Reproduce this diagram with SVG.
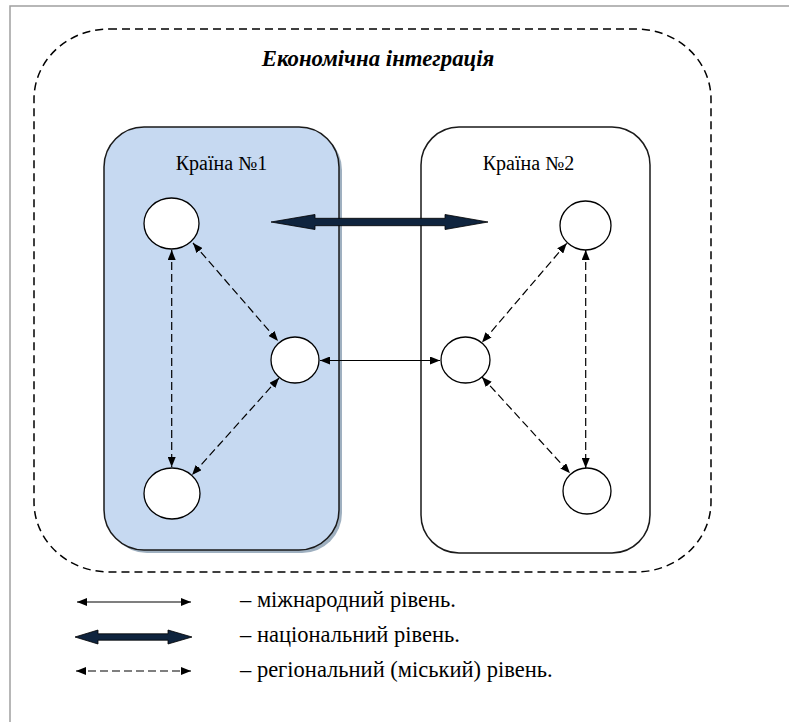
<svg xmlns="http://www.w3.org/2000/svg" width="789" height="722" viewBox="0 0 789 722">
  <defs>
    <style>
      .frame { fill: none; stroke: #a0a0a0; stroke-width: 1.5; }
      .zone { fill: none; stroke: #000; stroke-width: 1.5; stroke-dasharray: 8 5; }
      .country { stroke: #1a1a1a; stroke-width: 1.5; }
      .node { fill: #fff; stroke: #000; stroke-width: 1.3; }
      .label { fill: #000; font-family: "Liberation Serif", "DejaVu Serif", serif; }
      .title { font-size: 22.8px; font-weight: bold; font-style: italic; text-anchor: middle; }
      .cname { font-size: 20px; text-anchor: middle; }
      .legend { font-size: 22.5px; }
      .link { fill: none; stroke: #000; stroke-width: 1.2; }
      .dash { stroke-dasharray: 8 4; }
      .thick { fill: #0f243e; stroke: #000; stroke-width: 0.8; }
    </style>
    <marker id="head" viewBox="0 0 10 8" refX="10" refY="4" markerWidth="10" markerHeight="8" markerUnits="userSpaceOnUse" orient="auto-start-reverse">
      <path d="M0,0 L10,4 L0,8 Z" fill="#000"/>
    </marker>
  </defs>

  <!-- page frame -->
  <path class="frame" d="M10,722 V6 H789"/>

  <!-- integration zone -->
  <g id="integration">
    <rect class="zone" x="34" y="29" width="677" height="543" rx="75" ry="70"/>
    <text class="label title" x="378" y="66">Економічна інтеграція</text>
  </g>

  <!-- country 1 -->
  <g id="country1">
    <rect x="107" y="130" width="235" height="423" rx="40" ry="40" fill="#9fb0c0"/>
    <rect class="country" x="104" y="127" width="235" height="423" rx="40" ry="40" fill="#c6d9f1"/>
    <text class="label cname" x="221.5" y="170">Країна №1</text>
  </g>

  <!-- country 2 -->
  <g id="country2">
    <rect class="country" x="421" y="127" width="229" height="426" rx="38" ry="38" fill="#fff"/>
    <text class="label cname" x="528.5" y="170">Країна №2</text>
  </g>

  <!-- cities -->
  <g id="city-l1"><ellipse class="node" cx="171.5" cy="223.5" rx="27.5" ry="25.5"/></g>
  <g id="city-l2"><ellipse class="node" cx="295" cy="360" rx="24" ry="23"/></g>
  <g id="city-l3"><ellipse class="node" cx="172" cy="493.5" rx="28" ry="25.5"/></g>
  <g id="city-r1"><ellipse class="node" cx="585.5" cy="225.5" rx="25.5" ry="24.5"/></g>
  <g id="city-r2"><ellipse class="node" cx="465.5" cy="360" rx="24.5" ry="23"/></g>
  <g id="city-r3"><ellipse class="node" cx="587" cy="491" rx="24" ry="23"/></g>

  <!-- links -->
  <g id="connectors">
    <!-- national level -->
    <path class="thick" d="M271,222 L315,214.5 L315,218.3 L445,218.3 L445,214.5 L488,222 L445,229.5 L445,225.7 L315,225.7 L315,229.5 Z"/>
    <!-- international level -->
    <line class="link" x1="320" y1="360.5" x2="440" y2="360.5" marker-start="url(#head)" marker-end="url(#head)"/>
    <!-- regional level -->
    <line class="link dash" x1="171.7" y1="250" x2="171.7" y2="467" marker-start="url(#head)" marker-end="url(#head)"/>
    <line class="link dash" x1="193" y1="243" x2="278" y2="341" marker-start="url(#head)" marker-end="url(#head)"/>
    <line class="link dash" x1="279" y1="378" x2="192" y2="475" marker-start="url(#head)" marker-end="url(#head)"/>
    <line class="link dash" x1="566.7" y1="243.3" x2="482" y2="342.5" marker-start="url(#head)" marker-end="url(#head)"/>
    <line class="link dash" x1="585.7" y1="250" x2="585.7" y2="468" marker-start="url(#head)" marker-end="url(#head)"/>
    <line class="link dash" x1="482" y1="377" x2="570" y2="473.3" marker-start="url(#head)" marker-end="url(#head)"/>
  </g>

  <!-- legend -->
  <g id="legend">
    <line class="link" x1="77" y1="602" x2="191" y2="602" marker-start="url(#head)" marker-end="url(#head)"/>
    <text class="label legend" x="240" y="607">– міжнародний рівень.</text>
    <path class="thick" d="M75,637 L98,630 L98,633.8 L168,633.8 L168,630 L192,637 L168,644 L168,640.2 L98,640.2 L98,644 Z"/>
    <text class="label legend" x="240" y="642">– національний рівень.</text>
    <line class="link dash" x1="76" y1="671" x2="191" y2="671" marker-start="url(#head)" marker-end="url(#head)"/>
    <text class="label legend" x="240" y="677">– регіональний (міський) рівень.</text>
  </g>
</svg>
